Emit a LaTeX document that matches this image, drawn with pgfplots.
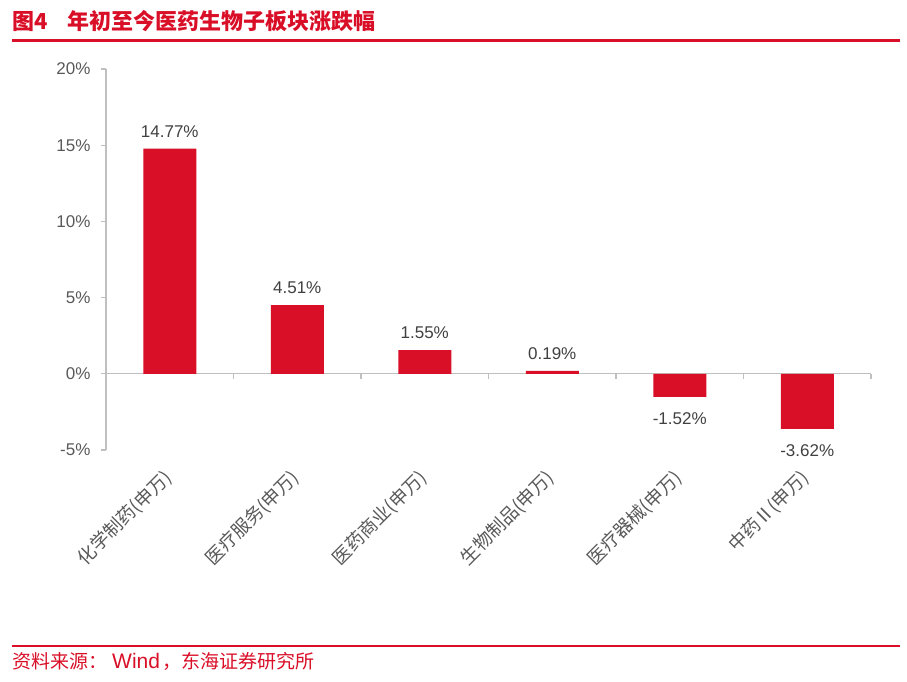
\documentclass[border=0pt]{standalone}
\usepackage{fontspec}
\setmainfont{Liberation Sans}
\newfontfamily\cjk{Noto Sans CJK SC}
\usepackage{pgfplots}
\pgfplotsset{compat=1.18}
\definecolor{hred}{RGB}{217,14,39}
\definecolor{axgray}{RGB}{191,191,191}
\definecolor{txtgray}{RGB}{89,89,89}
\definecolor{lblgray}{RGB}{64,64,64}

\begin{document}
\begin{tikzpicture}
\useasboundingbox (0pt,0pt) rectangle (907pt,681pt);
% header and footer
\node[anchor=base west, inner sep=0, text=hred, font=\cjk\bfseries\fontsize{22}{24}\selectfont] at (12pt,651pt) {图4\hspace{0.9em}年初至今医药生物子板块涨跌幅};
\draw[hred, line width=2.5pt] (12pt,640.5pt) -- (900pt,640.5pt);
\draw[hred, line width=2.5pt] (12pt,35pt) -- (900pt,35pt);
\node[anchor=base west, inner sep=0, text=hred, font=\cjk\fontsize{19}{21}\selectfont] at (12pt,13pt) {资料来源：\hspace{5pt}{\rmfamily\fontsize{21}{22}\selectfont Wind}\hspace{2pt}，东海证券研究所};

\begin{axis}[
  at={(106pt,231pt)}, anchor=south west,
  scale only axis, width=765pt, height=381pt,
  xmin=-0.5, xmax=5.5, ymin=-5, ymax=20,
  axis lines=left,
  axis line style={-, axgray, line width=1.2pt},
  x axis line style={draw=none},
  xtick={0,1,2,3,4,5},
  xticklabels={化学制药(申万),医疗服务(申万),医药商业(申万),生物制品(申万),医疗器械(申万),中药Ⅱ(申万)},
  x tick style={draw=none},
  x tick label style={rotate=45, anchor=east, font=\cjk\fontsize{18.5}{20}\selectfont, text=txtgray, yshift=-13pt, xshift=-11pt},
  ytick={-5,0,5,10,15,20},
  yticklabels={-5\%,0\%,5\%,10\%,15\%,20\%},
  y tick style={axgray, line width=1.2pt},
  tick align=outside, major tick length=5pt,
  y tick label style={font=\fontsize{17}{20}\selectfont, text=txtgray, xshift=-7pt},
  ybar, bar width=53pt, bar shift=0pt,
  point meta=explicit symbolic,
  nodes near coords,
  every node near coord/.append style={font=\fontsize{17}{20}\selectfont, text=lblgray, inner ysep=11pt, inner xsep=1pt, anchor=south},
  clip=false,
]
\draw[axgray, line width=1.2pt] (axis cs:-0.5,0) -- (axis cs:5.5,0);
\pgfplotsinvokeforeach{0.5,1.5,2.5,3.5,4.5,5.5}{
  \draw[axgray, line width=1.2pt] (axis cs:#1,0) -- ++(0pt,-5pt);
}
\addplot[fill=hred, draw=none] coordinates {
  (0,14.77) [14.77\%]
  (1,4.51) [4.51\%]
  (2,1.55) [1.55\%]
  (3,0.19) [0.19\%]
};
\addplot[fill=hred, draw=none, every node near coord/.append style={anchor=north, inner ysep=15pt}] coordinates {
  (4,-1.52) [-1.52\%]
  (5,-3.62) [-3.62\%]
};
\end{axis}
\end{tikzpicture}
\end{document}
